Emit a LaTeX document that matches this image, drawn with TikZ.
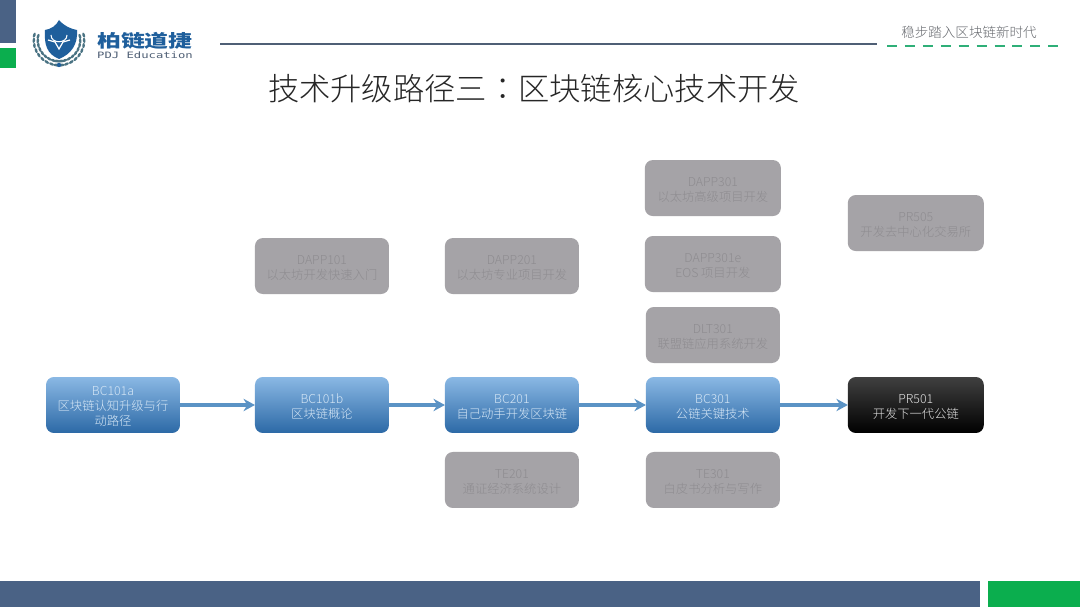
\documentclass[tikz,border=0pt]{standalone}
\usepackage{fontspec}
\setmainfont{Noto Sans CJK SC Light}
\newfontfamily\boldcjk{Noto Sans CJK SC}
\newfontfamily\colonfont{Noto Sans CJK TC Light}
\newfontfamily\logolatin{DejaVu Sans Mono}
\usetikzlibrary{
  arrows.meta,
  positioning
}
\definecolor{barblue}{HTML}{4A6285}
\definecolor{bargreen}{HTML}{0BAE4E}
\definecolor{dashgreen}{HTML}{2FAF78}
\definecolor{rulecolor}{HTML}{4F5F75}
\definecolor{shieldblue}{HTML}{1F5F9C}
\definecolor{leafcolor}{HTML}{4A7383}
\definecolor{courseboxtop}{HTML}{8AB8E4}
\definecolor{courseboxbot}{HTML}{2C69A6}
\definecolor{coursetext}{HTML}{D6E7F6}
\definecolor{optbox}{HTML}{A5A3A7}
\definecolor{opttext}{HTML}{8E8C90}
\definecolor{arrowcolor}{HTML}{5B93C5}
\definecolor{titletext}{HTML}{262626}
\definecolor{slogantext}{HTML}{66696E}
\newcommand{\boxfont}{\fontsize{7}{8.5}\selectfont}
\newcommand{\ccode}[1]{\rule{0pt}{6.9pt}#1}
\tikzset{
  base/.style={
    font=\boxfont,
    align=center,
    inner sep=0pt,
    outer sep=0pt,
    rounded corners=4.5pt,
    minimum width=2.68cm,
    minimum height=1.12cm,
  },
  course/.style={
    base,
    text=coursetext,
    top color=courseboxtop,
    bottom color=courseboxbot,
  },
  target/.style={
    base,
    text=white!90!black,
    minimum width=2.72cm,
    top color=black!75,
    bottom color=black,
  },
  option/.style={
    base,
    text=opttext,
    fill=optbox,
  },
  flow/.style={
    -{Stealth[length=6.5pt, width=7pt]},
    line width=1.9pt,
    draw=arrowcolor,
  },
}

\begin{document}
\begin{tikzpicture}[x=0.02cm, y=-0.02cm]

\useasboundingbox (0,0) rectangle (1080,608);
\fill[white] (0,0) rectangle (1080,608);

% === HEADER ===

\fill[barblue] (0,0) rectangle (16,43);
\fill[bargreen] (0,48) rectangle (16,68);
\fill[barblue] (0,581) rectangle (980,607);
\fill[bargreen] (988,581) rectangle (1080,607);

\draw[rulecolor, line width=1.5pt] (220,44) -- (877,44);
\draw[dashgreen, line width=1.4pt, dash pattern=on 5.7pt off 4.5pt] (887,46) -- (1058,46);

\node[font=\fontsize{7.7}{9}\selectfont, text=slogantext] (slogan) at (969,32.5) {稳步踏入区块链新时代};
\node[font=\fontsize{17.8}{20}\selectfont, text=titletext] (title) at (534,89) {技术升级路径三{\colonfont ：}区块链核心技术开发};

% === LOGO ===

\fill[shieldblue] (59,20) .. controls (64,26) and (71,29) .. (77,30)
  .. controls (78,45) and (71,54) .. (59,59)
  .. controls (47,54) and (44,45) .. (45,30)
  .. controls (51,29) and (56,26) .. (59,20) -- cycle;
\draw[white, line width=0.6pt] (51,35) .. controls (51,44) and (67,44) .. (67,35);
\draw[white, line width=0.7pt] (48,40) -- (55,42) -- (59,49) -- (63,42) -- (70,40);
\foreach \ang in {0,12,...,108} {
  \fill[leafcolor, rotate around={\ang:(59,40)}] (56,61) ellipse [x radius=2.6, y radius=1.3];
  \fill[leafcolor, rotate around={\ang:(59,40)}] (56,65) ellipse [x radius=2.6, y radius=1.3];
  \fill[leafcolor, rotate around={-\ang:(59,40)}] (62,61) ellipse [x radius=2.6, y radius=1.3];
  \fill[leafcolor, rotate around={-\ang:(59,40)}] (62,65) ellipse [x radius=2.6, y radius=1.3];
}
\fill[shieldblue] (59,65) circle (2.2);

\node[font=\boldcjk\fontsize{10}{12}\selectfont\bfseries, text=shieldblue, xscale=1.36] (logoname) at (145,41) {柏链道捷};
\node[font=\logolatin\fontsize{5}{6}\selectfont, text=rulecolor, xscale=1.39] (logosub) at (145,55.5) {PDJ Education};

% === ROW 1: Main path ===

\node[course] (bca) at (113,405) {\ccode{BC101a}\\区块链认知升级与行\\动路径};

\node[course, right=1.5cm of bca] (bcb) {\ccode{BC101b}\\区块链概论};

\node[course, right=1.12cm of bcb] (bctwo) {\ccode{BC201}\\自己动手开发区块链};

\node[course, right=1.34cm of bctwo] (bcthree) {\ccode{BC301}\\公链关键技术};

\node[target, right=1.36cm of bcthree] (prone) {\ccode{PR501}\\开发下一代公链};

\draw[flow] (bca) -- (bcb);
\draw[flow] (bcb) -- (bctwo);
\draw[flow] (bctwo) -- (bcthree);
\draw[flow] (bcthree) -- (prone);

% === ROW 2: Options above ===

\node[option, above=1.66cm of bcb] (dappone) {\ccode{DAPP101}\\以太坊开发快速入门};

\node[option, above=1.66cm of bctwo] (dapptwo) {\ccode{DAPP201}\\以太坊专业项目开发};

\node[option, above=0.28cm of bcthree] (dlt) {\ccode{DLT301}\\联盟链应用系统开发};

\node[option, above=0.3cm of dlt, minimum width=2.72cm] (dappe) {\ccode{DAPP301e}\\EOS 项目开发};

\node[option, above=0.4cm of dappe, minimum width=2.72cm] (dappthree) {\ccode{DAPP301}\\以太坊高级项目开发};

\node[option, above=2.52cm of prone, minimum width=2.72cm] (prfive) {\ccode{PR505}\\开发去中心化交易所};

% === ROW 3: Options below ===

\node[option, below=0.38cm of bctwo] (tetwo) {\ccode{TE201}\\通证经济系统设计};

\node[option, below=0.38cm of bcthree] (tethree) {\ccode{TE301}\\白皮书分析与写作};

\end{tikzpicture}
\end{document}
